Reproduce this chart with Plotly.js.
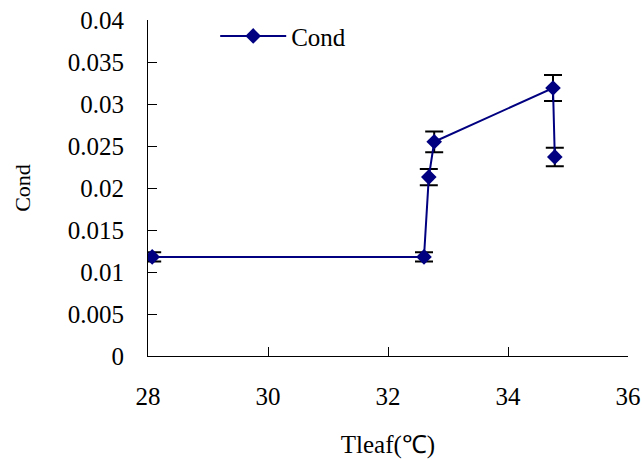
<!DOCTYPE html>
<html>
<head>
<meta charset="utf-8">
<script src="https://cdn.plot.ly/plotly-3.0.1.min.js"></script>
<style>html,body{margin:0;padding:0;background:#fff;}#chart{width:642px;height:460px;}</style>
</head>
<body>
<div id="chart"></div>
<script>
var tleaf = [28.07, 32.6, 32.68, 32.77, 34.75, 34.78];
var cond = [0.0118, 0.0118, 0.0213, 0.0255, 0.0319, 0.0237];
var condErr = [0.00055, 0.00055, 0.00097, 0.00123, 0.00155, 0.0011];
var xTicks = [28, 30, 32, 34, 36];
var yTicks = [0, 0.005, 0.01, 0.015, 0.02, 0.025, 0.03, 0.035, 0.04];
var yTickText = ['0', '0.005', '0.01', '0.015', '0.02', '0.025', '0.03', '0.035', '0.04'];

var fontFam = 'Liberation Serif';
var tickF = {family: fontFam, size: 25, color: '#000000'};
var legF = {family: fontFam, size: 25, color: '#000000'};
var xTitleF = {family: fontFam, size: 25, color: '#000000'};
var yTitleF = {family: fontFam, size: 22, color: '#000000'};

var trace = {
  x: tleaf, y: cond, name: 'Cond', type: 'scatter', mode: 'lines+markers',
  line: {color: '#000080', width: 2},
  marker: {symbol: 'diamond', size: 12, color: '#000080'},
  error_y: {type: 'data', array: condErr, visible: true, color: '#000000', thickness: 2, width: 9}
};

var layout = {
  width: 642, height: 460,
  margin: {l: 148, r: 14, t: 20, b: 104},
  paper_bgcolor: '#ffffff', plot_bgcolor: '#ffffff',
  font: {family: fontFam, size: 25, color: '#000000'},
  showlegend: true,
  legend: {x: 0.14, y: 0.952, xanchor: 'left', yanchor: 'middle', bgcolor: 'rgba(0,0,0,0)', itemwidth: 66, font: legF},
  xaxis: {
    range: [28, 36], tickvals: xTicks, ticks: 'inside', ticklen: 9, tickcolor: '#000',
    showline: true, linecolor: '#000', linewidth: 1, showgrid: false, zeroline: false,
    ticklabelstandoff: 18, tickfont: tickF,
    title: {text: 'Tleaf(℃)', font: xTitleF, standoff: 26}
  },
  yaxis: {
    range: [0, 0.04], tickvals: yTicks, ticktext: yTickText, ticks: 'inside', ticklen: 9, tickcolor: '#000',
    showline: true, linecolor: '#000', linewidth: 1, showgrid: false, zeroline: false,
    ticklabelstandoff: 18, tickfont: tickF,
    title: {text: 'Cond', font: yTitleF, standoff: 31}
  }
};

Plotly.newPlot('chart', [trace], layout, {displayModeBar: false, staticPlot: true});
</script>
</body>
</html>
